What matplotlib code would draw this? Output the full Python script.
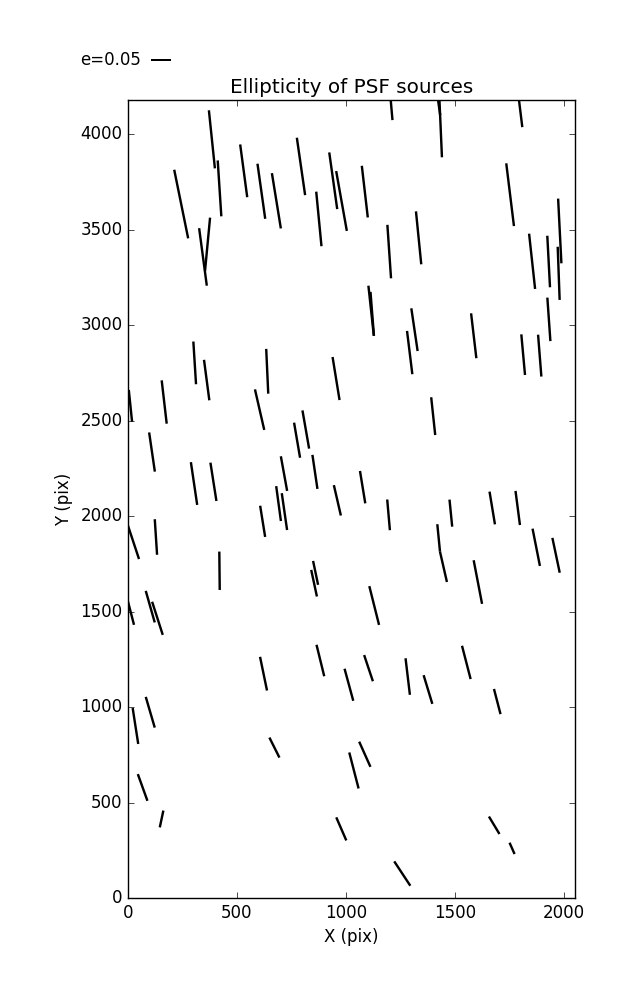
import numpy as np
import matplotlib
matplotlib.use('Agg')
import matplotlib.pyplot as plt

# PSF star positions (pix), ellipticity and position angle (deg)
x = [244, 385, 420, 344, 365, 531, 612, 681, 794, 876, 942, 980,
     1208, 1435, 1425, 1801, 1087, 1754, 1199, 1334, 1855, 1931, 1982, 1977,
     1116, 1121, 1932, 1315, 1293, 1587, 1814, 1890, 1401,
     11, 306, 361, 166, 639, 604, 955, 110, 303, 392, 716, 776, 816, 858,
     691, 718, 961, 1077, 1196, 1482, 1672, 1789,
     25, 128, 618, 420, 9, 102, 135, 861, 854, 622, 883, 1014, 102,
     1426, 1448, 1606, 1874, 1965, 1130, 1104, 1284, 1377, 1553, 1695,
     34, 67, 154, 672, 979, 1037, 1087, 1259, 1681, 1763]
y = [3635, 3974, 3717, 3358, 3424, 3809, 3702, 3652, 3832, 3557, 3757, 3651,
     4153, 4040, 4166, 4122, 3700, 3684, 3386, 3458, 3335, 3334, 3494, 3272,
     3076, 3060, 3031, 2977, 2857, 2945, 2846, 2841, 2524,
     2578, 2803, 2713, 2598, 2759, 2558, 2721, 2336, 2171, 2180, 2223, 2398, 2454, 2232,
     2066, 2024, 2083, 2152, 2007, 2016, 2043, 2043,
     1863, 1891, 1973, 1714, 1512, 1526, 1465, 1703, 1649, 1175, 1244, 1117, 973,
     1886, 1735, 1655, 1837, 1795, 1532, 1204, 1160, 1092, 1234, 1029,
     901, 579, 414, 788, 362, 668, 753, 128, 381, 260]
e = [0.175, 0.146, 0.140, 0.145, 0.134, 0.133, 0.139, 0.140, 0.145, 0.137, 0.143, 0.152,
     0.075, 0.153, 0.063, 0.081, 0.130, 0.158, 0.134, 0.133, 0.139, 0.129, 0.162, 0.133,
     0.126, 0.110, 0.109, 0.108, 0.109, 0.113, 0.102, 0.105, 0.095,
     0.080, 0.107, 0.102, 0.109, 0.112, 0.104, 0.109, 0.099, 0.108, 0.097, 0.088, 0.089, 0.097, 0.086,
     0.088, 0.093, 0.078, 0.082, 0.077, 0.068, 0.083, 0.086,
     0.088, 0.089, 0.079, 0.096, 0.080, 0.082, 0.087, 0.061, 0.068, 0.086, 0.081, 0.083, 0.080,
     0.069, 0.078, 0.111, 0.095, 0.089, 0.100, 0.069, 0.092, 0.075, 0.086, 0.065,
     0.091, 0.071, 0.043, 0.056, 0.063, 0.093, 0.069, 0.073, 0.051, 0.031]
ang = [101.5, 95.9, 93.7, 97.6, 84.6, 97.6, 98.0, 99.2, 98.2, 95.5, 98.0, 100.1,
       95.0, 92.5, 98.0, 97.0, 96.6, 97.0, 93.9, 95.7, 96.2, 93.0, 92.9, 92.1,
       96.2, 94.5, 94.0, 98.4, 97.0, 96.7, 95.2, 94.5, 96.1,
       95.9, 93.6, 97.5, 96.6, 92.6, 102.9, 99.2, 98.3, 98.4, 98.9, 100.3, 99.7, 99.9, 98.4,
       97.7, 98.2, 103.0, 99.3, 95.0, 95.7, 99.4, 97.4,
       108.3, 93.7, 99.1, 90.6, 104.5, 105.9, 107.8, 101.8, 102.1, 101.7, 103.8, 105.2, 106.3,
       95.6, 102.9, 100.9, 101.2, 101.9, 104.1, 108.5, 96.8, 106.9, 104.5, 104.6,
       98.8, 109.8, 78.0, 116.6, 113.5, 104.5, 114.1, 123.4, 121.1, 113.9]

plt.style.use('classic')
plt.rcParams['font.family'] = ['DejaVu Sans']

x = np.array(x)
y = np.array(y)
e = np.array(e)
theta = np.deg2rad(ang)
u = e * np.cos(theta)
v = e * np.sin(theta)

fig = plt.figure(figsize=(6.37, 10), dpi=100, facecolor='white')
ax = fig.add_subplot(111)
fig.subplots_adjust(left=0.201, right=0.902, bottom=0.102, top=0.9)

q = ax.quiver(x, y, u, v, angles='uv', pivot='middle', color='k',
              scale_units='inches', scale=0.25, units='inches', width=0.024,
              headwidth=0, headlength=0, headaxislength=0)
ax.quiverkey(q, 0.237, 0.94, 0.05, 'e=0.05', labelpos='W',
             coordinates='figure', labelsep=0.1)

ax.set_xlim(0, 2050)
ax.set_ylim(0, 4180)
ax.set_xticks([0, 500, 1000, 1500, 2000])
ax.set_xlabel('X (pix)')
ax.set_ylabel('Y (pix)')
ax.set_title('Ellipticity of PSF sources')

fig.savefig('out.png', dpi=100, facecolor='white')
